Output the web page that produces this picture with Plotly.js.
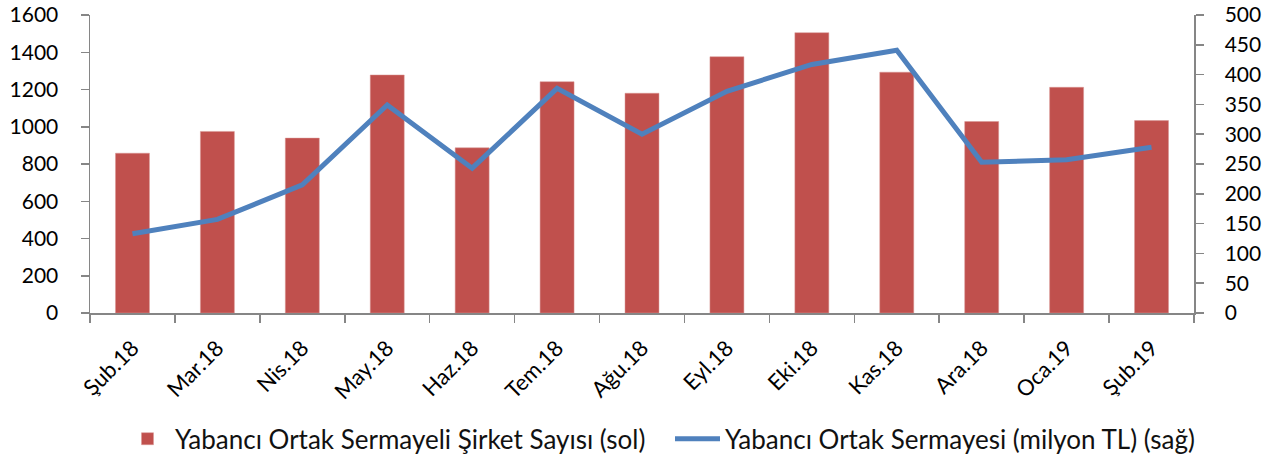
<!DOCTYPE html>
<html>
<head>
<meta charset="utf-8">
<script src="https://cdn.plot.ly/plotly-3.0.1.min.js"></script>
<style>html,body{margin:0;padding:0;background:#fff;}#chart{width:1274px;height:459px;}</style>
</head>
<body>
<div id="chart"></div>
<script>
const categories = ["Şub.18","Mar.18","Nis.18","May.18","Haz.18","Tem.18","Ağu.18","Eyl.18","Eki.18","Kas.18","Ara.18","Oca.19","Şub.19"];
const companyCount = [858, 975, 939, 1278, 887, 1242, 1180, 1376, 1505, 1293, 1028, 1212, 1033];
const capitalMillionTL = [133, 157, 215, 349, 243, 377, 300, 372, 417, 441, 253, 257, 278];
const leftTicks = [0,200,400,600,800,1000,1200,1400,1600];
const rightTicks = [0,50,100,150,200,250,300,350,400,450,500];
const barName = "Yabancı Ortak Sermayeli Şirket Sayısı (sol)";
const lineName = "Yabancı Ortak Sermayesi (milyon TL) (sağ)";

const fontFam = "Lato, 'Open Sans', sans-serif";
const axisColor = "#868686";

const traces = [
  {type:"bar", x:categories, y:companyCount, name:barName, yaxis:"y",
   marker:{color:"#C0504D", line:{color:"#D99694", width:0.5}}, hoverinfo:"x+y"},
  {type:"scatter", mode:"lines", x:categories, y:capitalMillionTL, name:lineName, yaxis:"y2",
   line:{color:"#4F81BD", width:5}, hoverinfo:"x+y"}
];

const layout = {
  width:1274, height:459,
  margin:{l:90, r:80, t:15, b:145.5},
  paper_bgcolor:"#fff", plot_bgcolor:"#fff",
  font:{family:fontFam, size:20, color:"#000"},
  bargap:0.6,
  showlegend:true,
  legend:{orientation:"h", xref:"container", yref:"container", x:120/1274, xanchor:"left",
          y:0.044, yanchor:"middle", font:{family:fontFam, size:26, color:"#111"},
          traceorder:"normal", itemwidth:45, tracegroupgap:0, entrywidth:490},
  xaxis:{type:"category", tickson:"boundaries", ticks:"outside", ticklen:8, tickcolor:axisColor,
         tickwidth:1.5, showline:true, linecolor:axisColor, linewidth:1.5, showgrid:false, tickangle:-45,
         tickfont:{family:fontFam, size:22, color:"#000"}, automargin:false, ticklabelstandoff:12},
  yaxis:{range:[0,1600], tickvals:leftTicks, ticks:"outside", ticklen:8, tickcolor:axisColor, tickwidth:1.5,
         showline:true, linecolor:axisColor, linewidth:1.5, showgrid:false, zeroline:false,
         tickfont:{family:fontFam, size:21, color:"#000"}, automargin:false, ticklabelstandoff:18},
  yaxis2:{range:[0,500], tickvals:rightTicks, overlaying:"y", side:"right", ticks:"outside", ticklen:8,
          tickwidth:1.5, tickcolor:axisColor, showline:true, linecolor:axisColor, linewidth:1.5, showgrid:false,
          zeroline:false, tickfont:{family:fontFam, size:21, color:"#000"}, automargin:false, ticklabelstandoff:17}
};

Plotly.newPlot("chart", traces, layout, {displayModeBar:false, staticPlot:true});
</script>
</body>
</html>
